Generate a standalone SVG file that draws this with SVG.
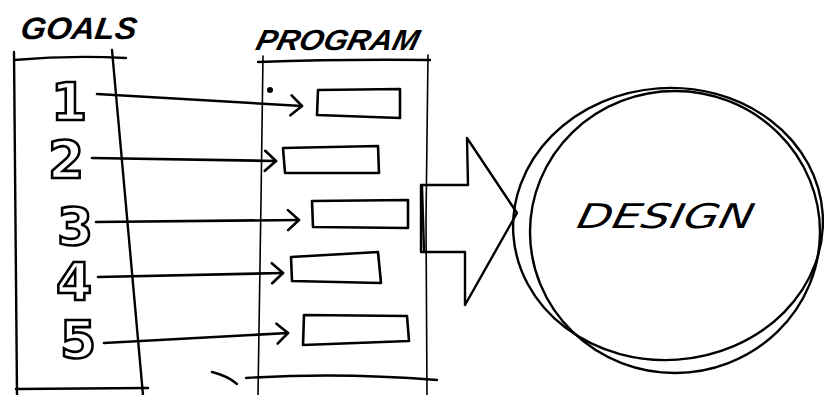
<svg xmlns="http://www.w3.org/2000/svg" width="824" height="395" viewBox="0 0 824 395">
<defs>
<marker id="chev" markerUnits="userSpaceOnUse" markerWidth="20" markerHeight="24" refX="14" refY="12" orient="auto">
<path d="M3,2 L14,12 L3,22" fill="none" stroke="#000" stroke-width="2.6" stroke-linecap="round" stroke-linejoin="round"/>
</marker>
<style>
.ln{fill:none;stroke:#000;stroke-width:2.4;stroke-linecap:round;stroke-linejoin:round}
.thin{fill:none;stroke:#000;stroke-width:1.6;stroke-linecap:round}
.bx{fill:none;stroke:#000;stroke-width:2.6;stroke-linecap:round;stroke-linejoin:round}
.num{font-family:"DejaVu Sans",sans-serif;font-weight:bold;font-size:52px;fill:#fff;stroke:#000;stroke-width:2.6;text-anchor:middle}
.hd{font-family:"Liberation Sans",sans-serif;font-weight:bold;font-style:italic;fill:#000}
.ds{font-family:"DejaVu Sans",sans-serif;font-weight:normal;font-style:italic;fill:#000}
.conn{fill:none;stroke:#000;stroke-width:2.6;stroke-linecap:round}
</style>
</defs>
<rect width="824" height="395" fill="#fff"/>

<g id="goals-column">
<text class="hd" x="20" y="39" font-size="31" textLength="116" lengthAdjust="spacingAndGlyphs" transform="skewX(-8) translate(5,0)">GOALS</text>
<path class="ln" d="M14,60 Q70,55 126,58"/>
<path class="ln" d="M14,52 L17,395"/>
<path class="ln" d="M112,50 L143,395"/>
<path class="ln" d="M16,389 L148,388"/>
</g>

<g id="program-column">
<text class="hd" x="257" y="50" font-size="29" textLength="162" lengthAdjust="spacingAndGlyphs" transform="skewX(-14) translate(10,0)">PROGRAM</text>
<path class="ln" d="M258,62 Q340,59 430,60"/>
<path class="thin" d="M263,56 L261,200 L258,395"/>
<path class="thin" d="M428,55 L426,220 L427,395"/>
<path class="ln" d="M246,378 Q340,372 437,380"/>
<path class="ln" d="M212,372 Q228,376 237,384"/>
<circle cx="270" cy="90" r="3" fill="#000"/>
</g>

<g id="goal-1"><text class="num" x="69" y="120" font-family="DejaVu Serif">1</text></g>
<g id="goal-2"><text class="num" x="66" y="178">2</text></g>
<g id="goal-3"><text class="num" x="75" y="245">3</text></g>
<g id="goal-4"><text class="num" x="74" y="300">4</text></g>
<g id="goal-5"><text class="num" x="78" y="358">5</text></g>

<g id="box-1"><path class="bx" d="M318,90 L400,89 L400,118 L317,115 Z"/></g>
<g id="box-2"><path class="bx" d="M283,148 L378,146 L379,173 L285,173 Z"/></g>
<g id="box-3"><path class="bx" d="M312,201 L408,200 L408,228 L313,227 Z"/></g>
<g id="box-4"><path class="bx" d="M291,257 L378,252 L381,283 L292,281 Z"/></g>
<g id="box-5"><path class="bx" d="M304,315 L407,316 L409,341 L303,345 Z"/></g>

<g id="block-arrow">
<path class="ln" d="M421,185 L468,185 L467,138 L517,213 L465,305 L465,252 L421,252 Z" stroke-width="2.6"/>
<path class="ln" d="M422,186 L424,251" stroke-width="4"/>
</g>

<g id="design">
<ellipse class="ln" cx="668" cy="224" rx="155" ry="136" transform="rotate(-4 668 224)"/>
<ellipse class="ln" cx="675" cy="232" rx="145" ry="141" stroke-width="1.8"/>
<text class="ds" x="577" y="228" font-size="34" textLength="176" lengthAdjust="spacingAndGlyphs" transform="skewX(-12) translate(47,0)">DESIGN</text>
</g>

<g id="connectors">
<path class="conn" d="M97,94 Q200,100 302,106" marker-end="url(#chev)"/>
<path class="conn" d="M92,158 L276,161" marker-end="url(#chev)"/>
<path class="conn" d="M96,222 L299,220" marker-end="url(#chev)"/>
<path class="conn" d="M98,277 L283,273" marker-end="url(#chev)"/>
<path class="conn" d="M104,343 Q200,338 288,333" marker-end="url(#chev)"/>
</g>
</svg>
